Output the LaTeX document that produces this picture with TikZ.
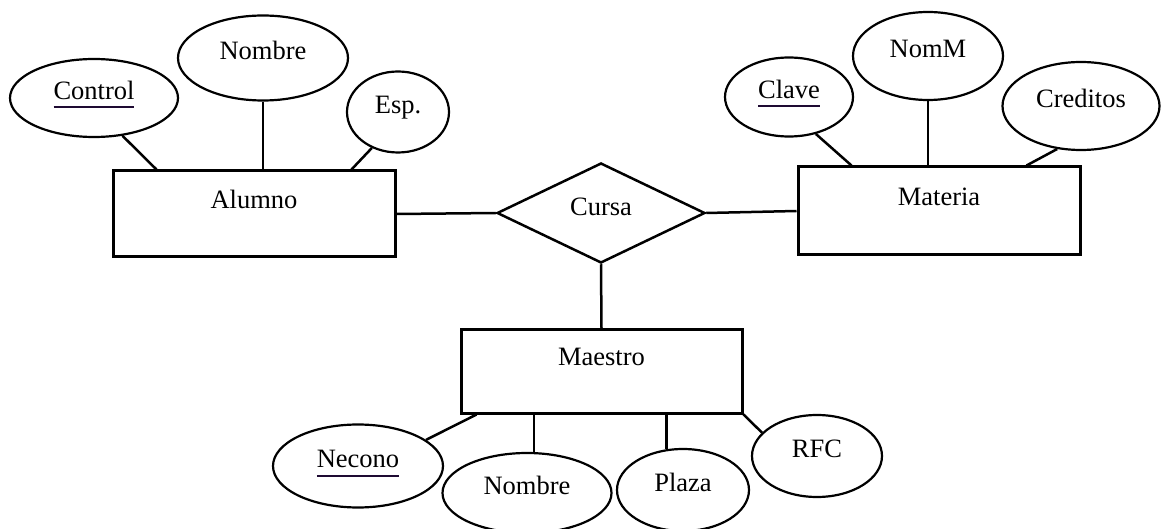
\documentclass[tikz,border=0pt]{standalone}
\usepackage{fontspec}
\setmainfont{Liberation Serif}
\usetikzlibrary{shapes.geometric}
\definecolor{ulcolor}{RGB}{30,10,50}
\newcommand\pkey[1]{\setbox0\hbox{#1}\rlap{\color{ulcolor}\rule[-9pt]{\wd0}{2pt}}\box0}

\begin{document}
\begin{tikzpicture}[x=1pt,y=-1pt,
    font=\fontsize{26.5}{31}\selectfont,
    entity/.style={rectangle,draw,line width=3pt,inner sep=0pt,
      text height=18pt,text depth=29pt},
    attr/.style={ellipse,draw,line width=2.2pt,inner sep=0pt,
      text height=18pt,text depth=15pt},
    rel/.style={diamond,aspect=2,draw,line width=2.5pt,inner sep=0pt,
      text height=18pt,text depth=13pt},
    link/.style={line width=2.5pt}]

    \useasboundingbox (0,0) rectangle (1162,529);

    % entidades y relacion
    \node[entity,minimum width=282pt,minimum height=86pt] (alumno)  at (254,214)   {Alumno};
    \node[entity,minimum width=282pt,minimum height=88pt] (materia) at (939,211)   {Materia};
    \node[entity,minimum width=281pt,minimum height=83pt] (maestro) at (601.5,371.5) {Maestro};
    \node[rel,minimum width=208pt,minimum height=100pt]   (cursa)   at (601,213)   {Cursa};

    % atributos
    \node[attr,minimum width=168pt,minimum height=78pt] (control)  at (94,98)    {\pkey{Control}};
    \node[attr,minimum width=170pt,minimum height=85pt] (nombrea)  at (263,58)   {Nombre};
    \node[attr,minimum width=102pt,minimum height=81pt] (esp)      at (398,112)  {Esp.};
    \node[attr,minimum width=128pt,minimum height=79pt] (clave)    at (789,97)   {\pkey{Clave}};
    \node[attr,minimum width=150pt,minimum height=88pt] (nomm)     at (928,56)   {NomM};
    \node[attr,minimum width=157pt,minimum height=88pt] (creditos) at (1081,106) {Creditos};
    \node[attr,minimum width=170pt,minimum height=83pt] (necono)   at (358,466)  {\pkey{Necono}};
    \node[attr,minimum width=169pt,minimum height=80pt] (nombreb)  at (527,493)  {Nombre};
    \node[attr,minimum width=132pt,minimum height=82pt] (plaza)    at (683,490)  {Plaza};
    \node[attr,minimum width=130pt,minimum height=82pt] (rfc)      at (817,456)  {RFC};

    % conexiones
    \draw[link] (alumno.east) -- (cursa.west);
    \draw[link] (cursa.east) -- (materia.west);
    \draw[link] (cursa.south) -- (maestro.north);

    \draw[link] (control.-53) -- ([xshift=45pt]alumno.north west);
    \draw[link] (nombrea.south) -- (nombrea.south |- alumno.north);
    \draw[link] (esp.-126) -- ([xshift=-45pt]alumno.north east);

    \draw[link] (clave.-54) -- ([xshift=55pt]materia.north west);
    \draw[link] (nomm.south) -- (nomm.south |- materia.north);
    \draw[link] (creditos.-119) -- ([xshift=-55pt]materia.north east);

    \draw[link] ([xshift=17pt]maestro.south west) -- (necono.21);
    \draw[link] (nombreb.80) -- (nombreb.80 |- maestro.south);
    \draw[link] (plaza.112) -- (plaza.112 |- maestro.south);
    \draw[link] (maestro.south east) -- (rfc.157);
\end{tikzpicture}
\end{document}
